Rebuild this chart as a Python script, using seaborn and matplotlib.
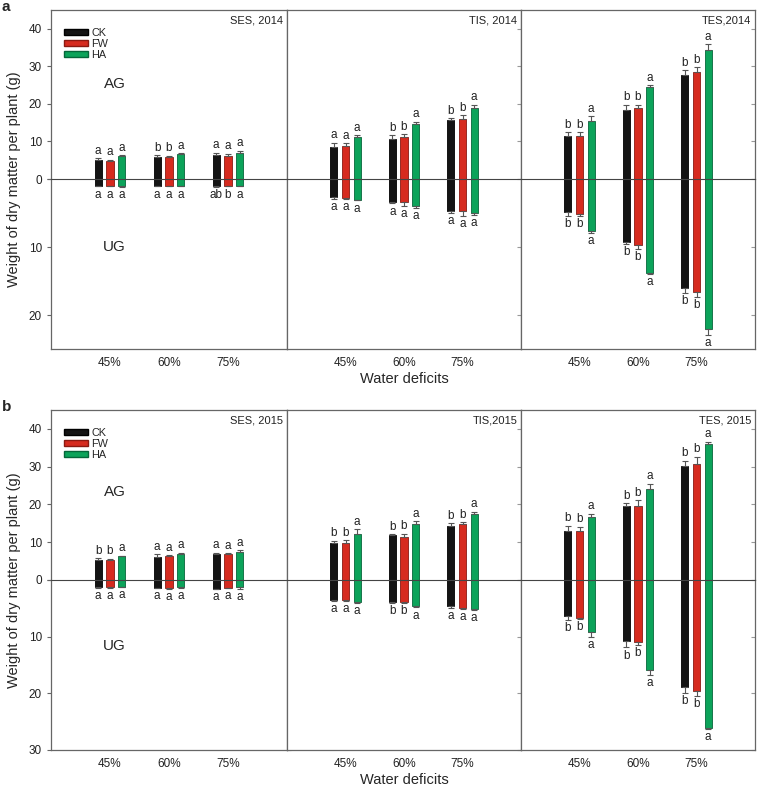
import matplotlib
matplotlib.use("Agg")
import matplotlib.pyplot as plt
from matplotlib.patches import Patch
import seaborn as sns
import pandas as pd

sns.set_style("white")
plt.rcParams['font.family'] = ['Liberation Sans', 'DejaVu Sans']

deficits = ["45%", "60%", "75%"]
treatments = ["CK", "FW", "HA"]
colors = ["#141414", "#d62b1f", "#0ca35a"]
edges = ["#000000", "#8a1a12", "#06663a"]

sites_2014 = ["SES, 2014", "TIS, 2014", "TES,2014"]
sites_2015 = ["SES, 2015", "TIS,2015", "TES, 2015"]

# rows = deficits (45, 60, 75), cols = CK, FW, HA
# ---- 2014 ----
ses14_ag = [[4.95, 4.8, 6.1], [5.85, 5.95, 6.75], [6.3, 6.1, 7.0]]
ses14_ag_err = [[0.55, 0.3, 0.2], [0.45, 0.25, 0.15], [0.7, 0.65, 0.5]]
ses14_ug = [[1.0, 1.0, 1.05], [1.0, 1.0, 1.0], [1.1, 1.0, 1.0]]
ses14_ug_err = [[0.1, 0.1, 0.1], [0.1, 0.1, 0.1], [0.1, 0.1, 0.1]]
ses14_ag_let = [["a", "a", "a"], ["b", "b", "a"], ["a", "a", "a"]]
ses14_ug_let = [["a", "a", "a"], ["a", "a", "a"], ["ab", "b", "a"]]

tis14_ag = [[8.4, 8.8, 11.1], [10.7, 11.2, 14.7], [15.6, 15.9, 18.9]]
tis14_ag_err = [[1.3, 0.8, 0.5], [0.9, 0.8, 0.6], [0.6, 1.1, 0.9]]
tis14_ug = [[2.7, 2.85, 3.1], [3.35, 3.4, 4.0], [4.75, 4.7, 5.0]]
tis14_ug_err = [[0.2, 0.15, 0.05], [0.25, 0.5, 0.2], [0.25, 0.8, 0.25]]
tis14_ag_let = [["a", "a", "a"], ["b", "b", "a"], ["b", "b", "a"]]
tis14_ug_let = [["a", "a", "a"], ["a", "a", "a"], ["a", "a", "a"]]

tes14_ag = [[11.35, 11.35, 15.5], [18.5, 19.0, 24.4], [27.8, 28.5, 34.4]]
tes14_ag_err = [[1.05, 1.05, 1.3], [1.3, 0.8, 0.5], [1.2, 1.2, 1.5]]
tes14_ug = [[4.85, 5.15, 7.6], [9.2, 9.7, 13.8], [16.1, 16.6, 22.1]]
tes14_ug_err = [[0.65, 0.35, 0.4], [0.35, 0.6, 0.1], [0.7, 0.7, 0.8]]
tes14_ag_let = [["b", "b", "a"], ["b", "b", "a"], ["b", "b", "a"]]
tes14_ug_let = [["b", "b", "a"], ["b", "b", "a"], ["b", "b", "a"]]

# ---- 2015 ----
ses15_ag = [[5.4, 5.3, 6.3], [6.1, 6.3, 6.8], [7.0, 6.8, 7.5]]
ses15_ag_err = [[0.45, 0.3, 0.15], [0.8, 0.3, 0.4], [0.2, 0.35, 0.45]]
ses15_ug = [[1.25, 1.25, 1.15], [1.35, 1.45, 1.2], [1.5, 1.35, 1.25]]
ses15_ug_err = [[0.1, 0.1, 0.1], [0.1, 0.1, 0.15], [0.1, 0.1, 0.25]]
ses15_ag_let = [["b", "b", "a"], ["a", "a", "a"], ["a", "a", "a"]]
ses15_ug_let = [["a", "a", "a"], ["a", "a", "a"], ["a", "a", "a"]]

tis15_ag = [[9.7, 9.9, 12.3], [11.8, 11.5, 14.7], [14.3, 14.7, 17.6]]
tis15_ag_err = [[0.7, 0.7, 1.2], [0.4, 0.8, 0.8], [0.8, 0.6, 0.45]]
tis15_ug = [[3.6, 3.6, 3.95], [3.9, 3.95, 4.65], [4.65, 4.9, 5.1]]
tis15_ug_err = [[0.1, 0.1, 0.1], [0.15, 0.1, 0.2], [0.25, 0.15, 0.25]]
tis15_ag_let = [["b", "b", "a"], ["b", "b", "a"], ["b", "b", "a"]]
tis15_ug_let = [["a", "a", "a"], ["b", "b", "a"], ["a", "a", "a"]]

tes15_ag = [[13.1, 13.1, 16.7], [19.5, 19.7, 24.2], [30.2, 30.7, 35.9]]
tes15_ag_err = [[1.3, 1.0, 0.9], [0.9, 1.4, 1.3], [1.4, 1.9, 0.7]]
tes15_ug = [[6.4, 6.65, 9.2], [10.8, 10.9, 15.9], [18.8, 19.5, 26.1]]
tes15_ug_err = [[0.6, 0.25, 0.9], [1.1, 0.6, 0.9], [1.1, 1.0, 0.15]]
tes15_ag_let = [["b", "b", "a"], ["b", "b", "a"], ["b", "b", "a"]]
tes15_ug_let = [["b", "b", "a"], ["b", "b", "a"], ["b", "b", "a"]]

W, H = 758, 788
fig = plt.figure(figsize=(W / 100, H / 100), dpi=100)

col_x = [51, 287, 521, 755]
spine_c = "#666666"


def to_df(vals):
    rows = []
    for d, row in zip(deficits, vals):
        for t, v in zip(treatments, row):
            rows.append({"deficit": d, "treatment": t, "value": v})
    return pd.DataFrame(rows)


def draw_bars(ax, vals, errs, lets, down):
    df = to_df(vals)
    sns.barplot(data=df, x="deficit", y="value", hue="treatment", order=deficits,
                hue_order=treatments, palette=colors, width=0.6, gap=0.38,
                errorbar=None, legend=False, ax=ax, linewidth=0.6, saturation=1)
    bar_conts = list(ax.containers)
    for i, cont in enumerate(bar_conts):
        for j, p in enumerate(cont.patches):
            p.set_edgecolor(edges[i])
            xc = p.get_x() + p.get_width() / 2
            h = vals[j][i]
            e = errs[j][i]
            ax.errorbar(xc, h, yerr=[[0], [e]], fmt="none", ecolor="#555555",
                        elinewidth=0.8, capsize=2.2, capthick=0.8, zorder=1)
            if down:
                ax.annotate(lets[j][i], (xc, h + e), xytext=(0, -1.5),
                            textcoords="offset points", ha="center", va="top",
                            fontsize=8.5, color="#222222")
            else:
                ax.annotate(lets[j][i], (xc, h + e), xytext=(0, 1),
                            textcoords="offset points", ha="center", va="bottom",
                            fontsize=8.5, color="#222222")


def draw_panel(top, zero, bottom, sites, data, ug_max, ug_ticks, letter, ag_y, ug_y):
    for c in range(3):
        x0 = col_x[c] / W
        w = (col_x[c + 1] - col_x[c]) / W
        ax_up = fig.add_axes([x0, 1 - zero / H, w, (zero - top) / H])
        ax_dn = fig.add_axes([x0, 1 - bottom / H, w, (bottom - zero) / H])
        ag, ag_err, ug, ug_err, ag_let, ug_let = data[c]
        draw_bars(ax_up, ag, ag_err, ag_let, False)
        draw_bars(ax_dn, ug, ug_err, ug_let, True)
        ax_up.set_ylim(0, 45)
        ax_dn.set_ylim(ug_max, 0)
        for ax in (ax_up, ax_dn):
            ax.set_xlim(-1, 3)
            ax.set_xlabel("")
            ax.set_ylabel("")
            for s in ax.spines.values():
                s.set_color(spine_c)
                s.set_linewidth(0.9)
            ax.tick_params(axis="x", length=0)
        ax_up.spines["bottom"].set_visible(False)
        ax_dn.spines["top"].set_color("#444444")
        ax_dn.spines["top"].set_linewidth(0.8)
        ax_up.set_xticklabels([])
        ax_dn.set_xticks(range(3))
        ax_dn.set_xticklabels(deficits, fontsize=8.5, color="#222222")
        ax_dn.tick_params(axis="x", pad=6)
        ax_up.set_yticks([0, 10, 20, 30, 40])
        ax_dn.set_yticks([0] + ug_ticks)
        for ax in (ax_up, ax_dn):
            ax.yaxis.set_ticks_position("both")
            ax.tick_params(axis="y", which="both", direction="in", length=3,
                           color="#999999", left=False, right=True, labelleft=False)
        if c == 0:
            for ax in (ax_up, ax_dn):
                ax.tick_params(axis="y", left=True, labelleft=True, labelsize=8.5,
                               labelcolor="#222222")
            ax_up.tick_params(axis="y", which="both", direction="out", length=3,
                              left=True, right=False, color="#666666")
            ax_up.tick_params(axis="y", right=True)
            ax_dn.set_yticklabels([""] + [str(t) for t in ug_ticks])
            ax_dn.tick_params(axis="y", direction="out", length=3, color="#666666")
            ax_up.text(0.27, ag_y, "AG", transform=ax_up.transAxes, ha="center",
                       va="center", fontsize=11)
            ax_dn.text(0.27, ug_y, "UG", transform=ax_dn.transAxes,
                       ha="center", va="center", fontsize=11)
            handles = [Patch(facecolor=colors[k], edgecolor=edges[k], label=treatments[k])
                       for k in range(3)]
            ax_up.legend(handles=handles, loc="upper left", bbox_to_anchor=(0.055, 0.895),
                         frameon=False, fontsize=7.8, handlelength=2.2, handleheight=0.4,
                         handletextpad=0.35, labelspacing=0.1, borderaxespad=0.0,
                         borderpad=0.0)
        ax_up.text(0.985, 0.97, sites[c], transform=ax_up.transAxes, ha="right",
                   va="top", fontsize=8, color="#222222")
    fig.text(2 / W, 1 - (top - 10) / H, letter, fontsize=11, fontweight="bold",
             ha="left", va="top")
    fig.text(14 / W, 1 - ((top + bottom) / 2) / H, "Weight of dry matter per plant (g)",
             rotation=90, ha="center", va="center", fontsize=10.5)
    fig.text(404 / W, 1 - (bottom + 30) / H, "Water deficits", ha="center",
             va="center", fontsize=10.5)


data_2014 = [
    (ses14_ag, ses14_ag_err, ses14_ug, ses14_ug_err, ses14_ag_let, ses14_ug_let),
    (tis14_ag, tis14_ag_err, tis14_ug, tis14_ug_err, tis14_ag_let, tis14_ug_let),
    (tes14_ag, tes14_ag_err, tes14_ug, tes14_ug_err, tes14_ag_let, tes14_ug_let),
]
data_2015 = [
    (ses15_ag, ses15_ag_err, ses15_ug, ses15_ug_err, ses15_ag_let, ses15_ug_let),
    (tis15_ag, tis15_ag_err, tis15_ug, tis15_ug_err, tis15_ag_let, tis15_ug_let),
    (tes15_ag, tes15_ag_err, tes15_ug, tes15_ug_err, tes15_ag_let, tes15_ug_let),
]

draw_panel(10, 179, 349, sites_2014, data_2014, 25, [10, 20], "a", 0.56, 0.60)
draw_panel(410, 580, 750, sites_2015, data_2015, 30, [10, 20, 30], "b", 0.52, 0.61)

fig.savefig("out.png", dpi=100)
